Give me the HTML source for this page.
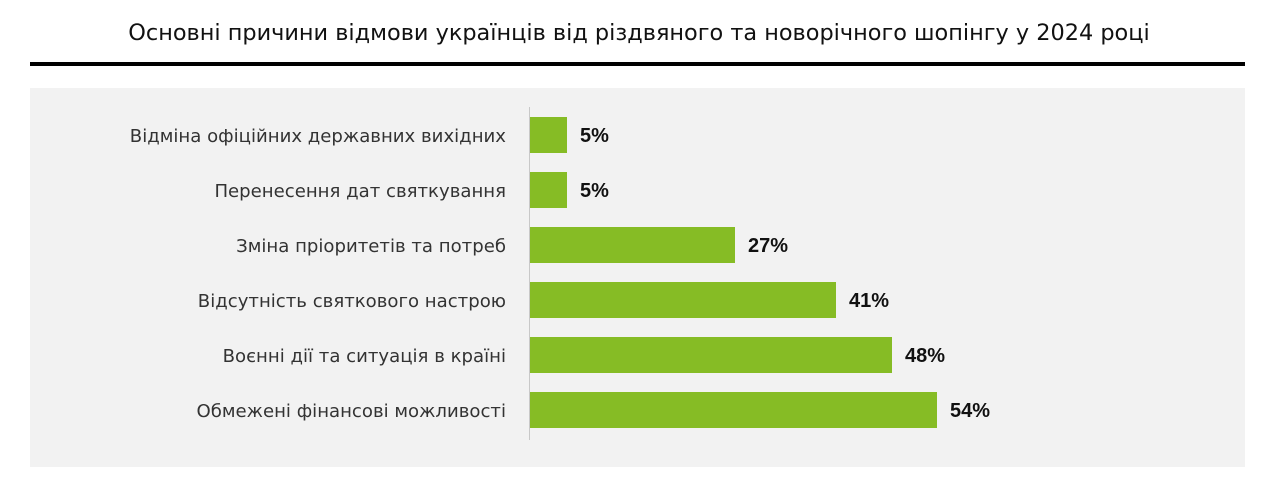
<!DOCTYPE html>
<html><head><meta charset="utf-8"><style>
body{margin:0;width:1278px;height:488px;background:#fff;position:relative;font-family:"DejaVu Sans","Liberation Sans",sans-serif;overflow:hidden}
.t{position:absolute;left:0;width:1278px;top:20px;text-align:center;font-size:22.4px;color:#111;white-space:nowrap}
.rule{position:absolute;left:30px;width:1215px;top:62px;height:4px;background:#000}
.bg{position:absolute;left:30px;width:1215px;top:88px;height:379px;background:#f2f2f2}
.ax{position:absolute;left:529px;top:107px;width:1px;height:333px;background:#c8c8c8}
.bar{position:absolute;left:530px;height:36px;background:#86bc25}
.lab{position:absolute;right:772px;font-size:18.1px;color:#333;white-space:nowrap;line-height:36px;margin-top:2px}
.v{position:absolute;font-family:"Liberation Sans",sans-serif;font-size:20px;font-weight:bold;color:#111;line-height:38px}
</style></head><body>
<div class="t">Основні причини відмови українців від різдвяного та новорічного шопінгу у 2024 році</div>
<div class="rule"></div>
<div class="bg"></div>
<div class="ax"></div>

<div class="lab" style="top:117px">Відміна офіційних державних вихідних</div>
<div class="bar" style="top:117px;width:37px"></div>
<div class="v" style="top:117px;left:580px">5%</div>

<div class="lab" style="top:172px">Перенесення дат святкування</div>
<div class="bar" style="top:172px;width:37px"></div>
<div class="v" style="top:172px;left:580px">5%</div>

<div class="lab" style="top:227px">Зміна пріоритетів та потреб</div>
<div class="bar" style="top:227px;width:205px"></div>
<div class="v" style="top:227px;left:748px">27%</div>

<div class="lab" style="top:282px">Відсутність святкового настрою</div>
<div class="bar" style="top:282px;width:306px"></div>
<div class="v" style="top:282px;left:849px">41%</div>

<div class="lab" style="top:337px">Воєнні дії та ситуація в країні</div>
<div class="bar" style="top:337px;width:362px"></div>
<div class="v" style="top:337px;left:905px">48%</div>

<div class="lab" style="top:392px">Обмежені фінансові можливості</div>
<div class="bar" style="top:392px;width:407px"></div>
<div class="v" style="top:392px;left:950px">54%</div>
</body></html>
